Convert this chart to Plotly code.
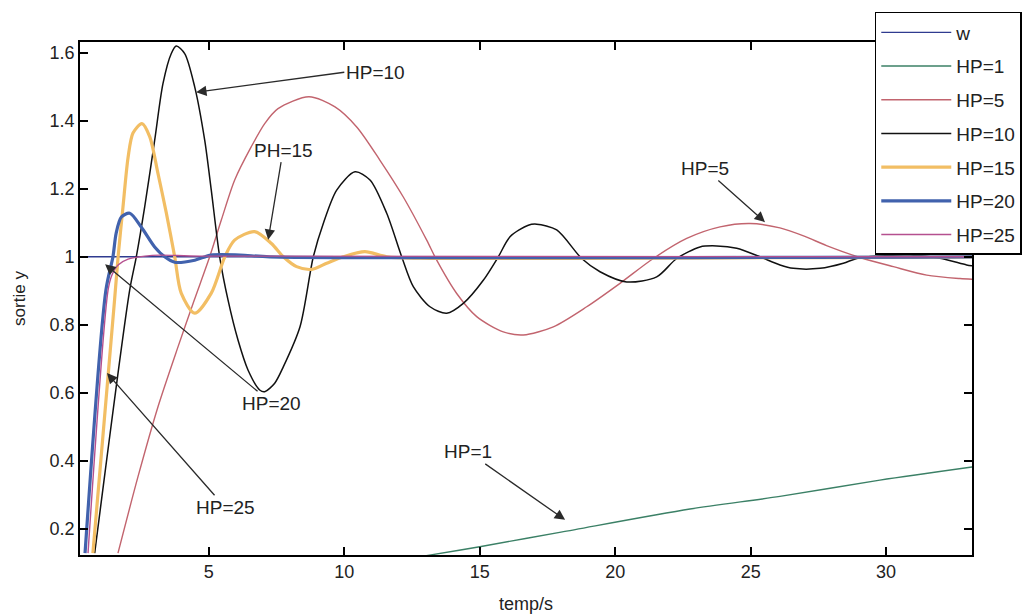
import plotly.graph_objects as go

# ---------------- data ----------------
w_x = [0.0, 33.2]
w_y = [1.0, 1.0]

hp1_x = [12.5, 13.2, 15.0, 18.0, 22.76, 26.08, 29.77, 33.2]
hp1_y = [0.113, 0.123, 0.147, 0.19, 0.258, 0.295, 0.343, 0.382]

hp5_x = [1.646, 2.385, 3.123, 3.861, 4.45, 5.031, 5.46, 5.954, 6.567, 7.062, 7.553,
         8.697, 9.657, 10.458, 11.317, 12.178, 13.042, 13.411, 14.149, 14.887, 15.869, 16.608,
         17.715, 18.948, 20.177, 21.406, 22.639, 23.869, 24.976, 26.08, 27.0, 27.8,
         29.036, 30.266, 31.499, 32.727, 33.2]
hp5_y = [0.128, 0.353, 0.559, 0.735, 0.87, 1.0, 1.108, 1.226, 1.324, 1.392, 1.436,
         1.471, 1.441, 1.382, 1.284, 1.176, 1.049, 0.99, 0.892, 0.824, 0.779, 0.77,
         0.794, 0.853, 0.922, 0.995, 1.054, 1.088, 1.098, 1.085, 1.06, 1.033,
         0.998, 0.971, 0.946, 0.936, 0.934]

hp10_x = [0.786, 2.078, 2.322, 2.632, 3.001, 3.308, 3.614, 3.798, 4.108, 4.478, 4.847, 5.09,
          5.4, 5.707, 6.076, 6.445, 6.877, 7.062, 7.431, 7.748, 8.365, 8.856, 9.225, 9.719,
          10.395, 10.949, 11.565, 12.119, 12.547, 13.163, 13.78, 14.393, 15.131, 15.685,
          16.117, 16.792, 17.102, 17.84, 18.763, 19.439, 20.424, 21.532, 22.27, 23.13,
          23.747, 24.485, 25.345, 26.083, 26.575, 27.56, 28.42, 28.915, 29.7, 30.88,
          31.99, 32.97, 33.2]
hp10_y = [0.128, 0.902, 1.0, 1.147, 1.343, 1.51, 1.598, 1.62, 1.598, 1.5, 1.343, 1.196,
          1.0, 0.873, 0.755, 0.667, 0.608, 0.603, 0.628, 0.676, 0.794, 1.0, 1.098, 1.196,
          1.25, 1.226, 1.128, 1.0, 0.912, 0.853, 0.834, 0.863, 0.931, 1.0,
          1.059, 1.093, 1.096, 1.079, 0.995, 0.956, 0.926, 0.941, 0.995, 1.029,
          1.032, 1.025, 1.0, 0.976, 0.966, 0.966, 0.981, 0.995, 1.002, 1.005,
          0.996, 0.976, 0.973]

hp15_x = [0.72, 1.52, 1.65, 1.83, 2.02, 2.2, 2.53, 2.82, 3.12, 3.43, 3.74, 3.98, 4.48,
          5.09, 5.59, 5.95, 6.69, 7.31, 7.75, 8.24, 8.8, 9.35, 9.96, 10.76, 11.57, 12.8, 33.2]
hp15_y = [0.128, 0.873, 1.0, 1.146, 1.293, 1.364, 1.392, 1.353, 1.246, 1.129, 1.0, 0.893, 0.834,
          0.893, 1.0, 1.049, 1.074, 1.039, 1.0, 0.971, 0.963, 0.981, 1.0, 1.015, 1.0, 0.996, 1.0]

hp20_x = [0.43, 1.2, 1.46, 1.58, 1.77, 2.08, 2.51, 3.0, 3.37, 3.74, 4.48, 5.08, 6.15, 7.26, 33.2]
hp20_y = [0.128, 0.902, 1.0, 1.07, 1.117, 1.128, 1.087, 1.029, 1.0, 0.984, 0.99, 1.005, 1.005, 1.0, 1.0]

hp25_x = [0.54, 1.28, 1.42, 1.65, 2.02, 2.64, 3.2, 4.67, 33.2]
hp25_y = [0.128, 0.902, 0.946, 0.976, 0.993, 1.002, 1.005, 1.002, 1.0]

x_ticks = [5, 10, 15, 20, 25, 30]
y_ticks = [0.2, 0.4, 0.6, 0.8, 1.0, 1.2, 1.4, 1.6]
y_ticktext = ["0.2", "0.4", "0.6", "0.8", "1", "1.2", "1.4", "1.6"]

# annotations: (text, tip_x, tip_y, text_x, text_y, xanchor)
notes = [
    ("HP=10", 4.53, 1.484, 10.0, 1.543, "left"),
    ("PH=15", 7.19, 1.05, 7.74, 1.314, "center"),
    ("HP=20", 1.17, 0.978, 7.33, 0.569, "center"),
    ("HP=25", 1.24, 0.658, 5.6, 0.263, "center"),
    ("HP=5", 25.53, 1.102, 23.31, 1.26, "center"),
    ("HP=1", 18.15, 0.226, 14.57, 0.426, "center"),
]

# ---------------- figure ----------------
FONT = "Liberation Sans, Arial, sans-serif"
series = [
    ("w", w_x, w_y, "#2f3b8f", 1.4, "linear"),
    ("HP=1", hp1_x, hp1_y, "#3b8066", 1.4, "spline"),
    ("HP=5", hp5_x, hp5_y, "#c2646e", 1.4, "spline"),
    ("HP=10", hp10_x, hp10_y, "#111111", 1.5, "spline"),
    ("HP=15", hp15_x, hp15_y, "#f2be64", 3.2, "spline"),
    ("HP=20", hp20_x, hp20_y, "#4162ad", 3.2, "spline"),
    ("HP=25", hp25_x, hp25_y, "#b5508f", 1.4, "spline"),
]

fig = go.Figure()
for name, xs, ys, col, lw, shape in series:
    fig.add_trace(go.Scatter(
        x=xs, y=ys, name=name, mode="lines", legendgroup=name,
        line=dict(color=col, width=lw, shape=shape, smoothing=0.8),
    ))

for text, tx, ty, ax, ay, xanc in notes:
    fig.add_annotation(
        x=tx, y=ty, ax=ax, ay=ay, xref="x", yref="y", axref="x", ayref="y",
        text=text, showarrow=True, arrowhead=2, arrowsize=1.6, arrowwidth=1.3,
        arrowcolor="#2a2a2a", xanchor=xanc, yanchor="middle",
        font=dict(family=FONT, size=19, color="#222222"),
    )

axis_common = dict(
    showline=True, linecolor="black", linewidth=1.6, mirror="ticks",
    ticks="inside", ticklen=8, tickwidth=1.5, tickcolor="black",
    showgrid=False, zeroline=False,
    tickfont=dict(family=FONT, size=18, color="#222222"),
)

fig.update_layout(
    width=1026, height=615,
    margin=dict(l=80, r=54, t=42, b=60, autoexpand=False),
    paper_bgcolor="white", plot_bgcolor="white",
    font=dict(family=FONT, color="#222222"),
    xaxis=dict(range=[0.244, 33.17], tickvals=x_ticks,
               title=dict(text="temp/s", font=dict(family=FONT, size=18), standoff=16),
               **axis_common),
    yaxis=dict(range=[0.1226, 1.632], tickvals=y_ticks, ticktext=y_ticktext,
               title=dict(text="sortie y", font=dict(family=FONT, size=17), standoff=20),
               **axis_common),
    legend=dict(x=0.891, y=1.0585, xanchor="left", yanchor="top",
                bgcolor="white", bordercolor="black", borderwidth=1.5,
                font=dict(family=FONT, size=19, color="#222222"),
                itemwidth=70, tracegroupgap=6),
    showlegend=True,
)

fig.write_html("out.html")
